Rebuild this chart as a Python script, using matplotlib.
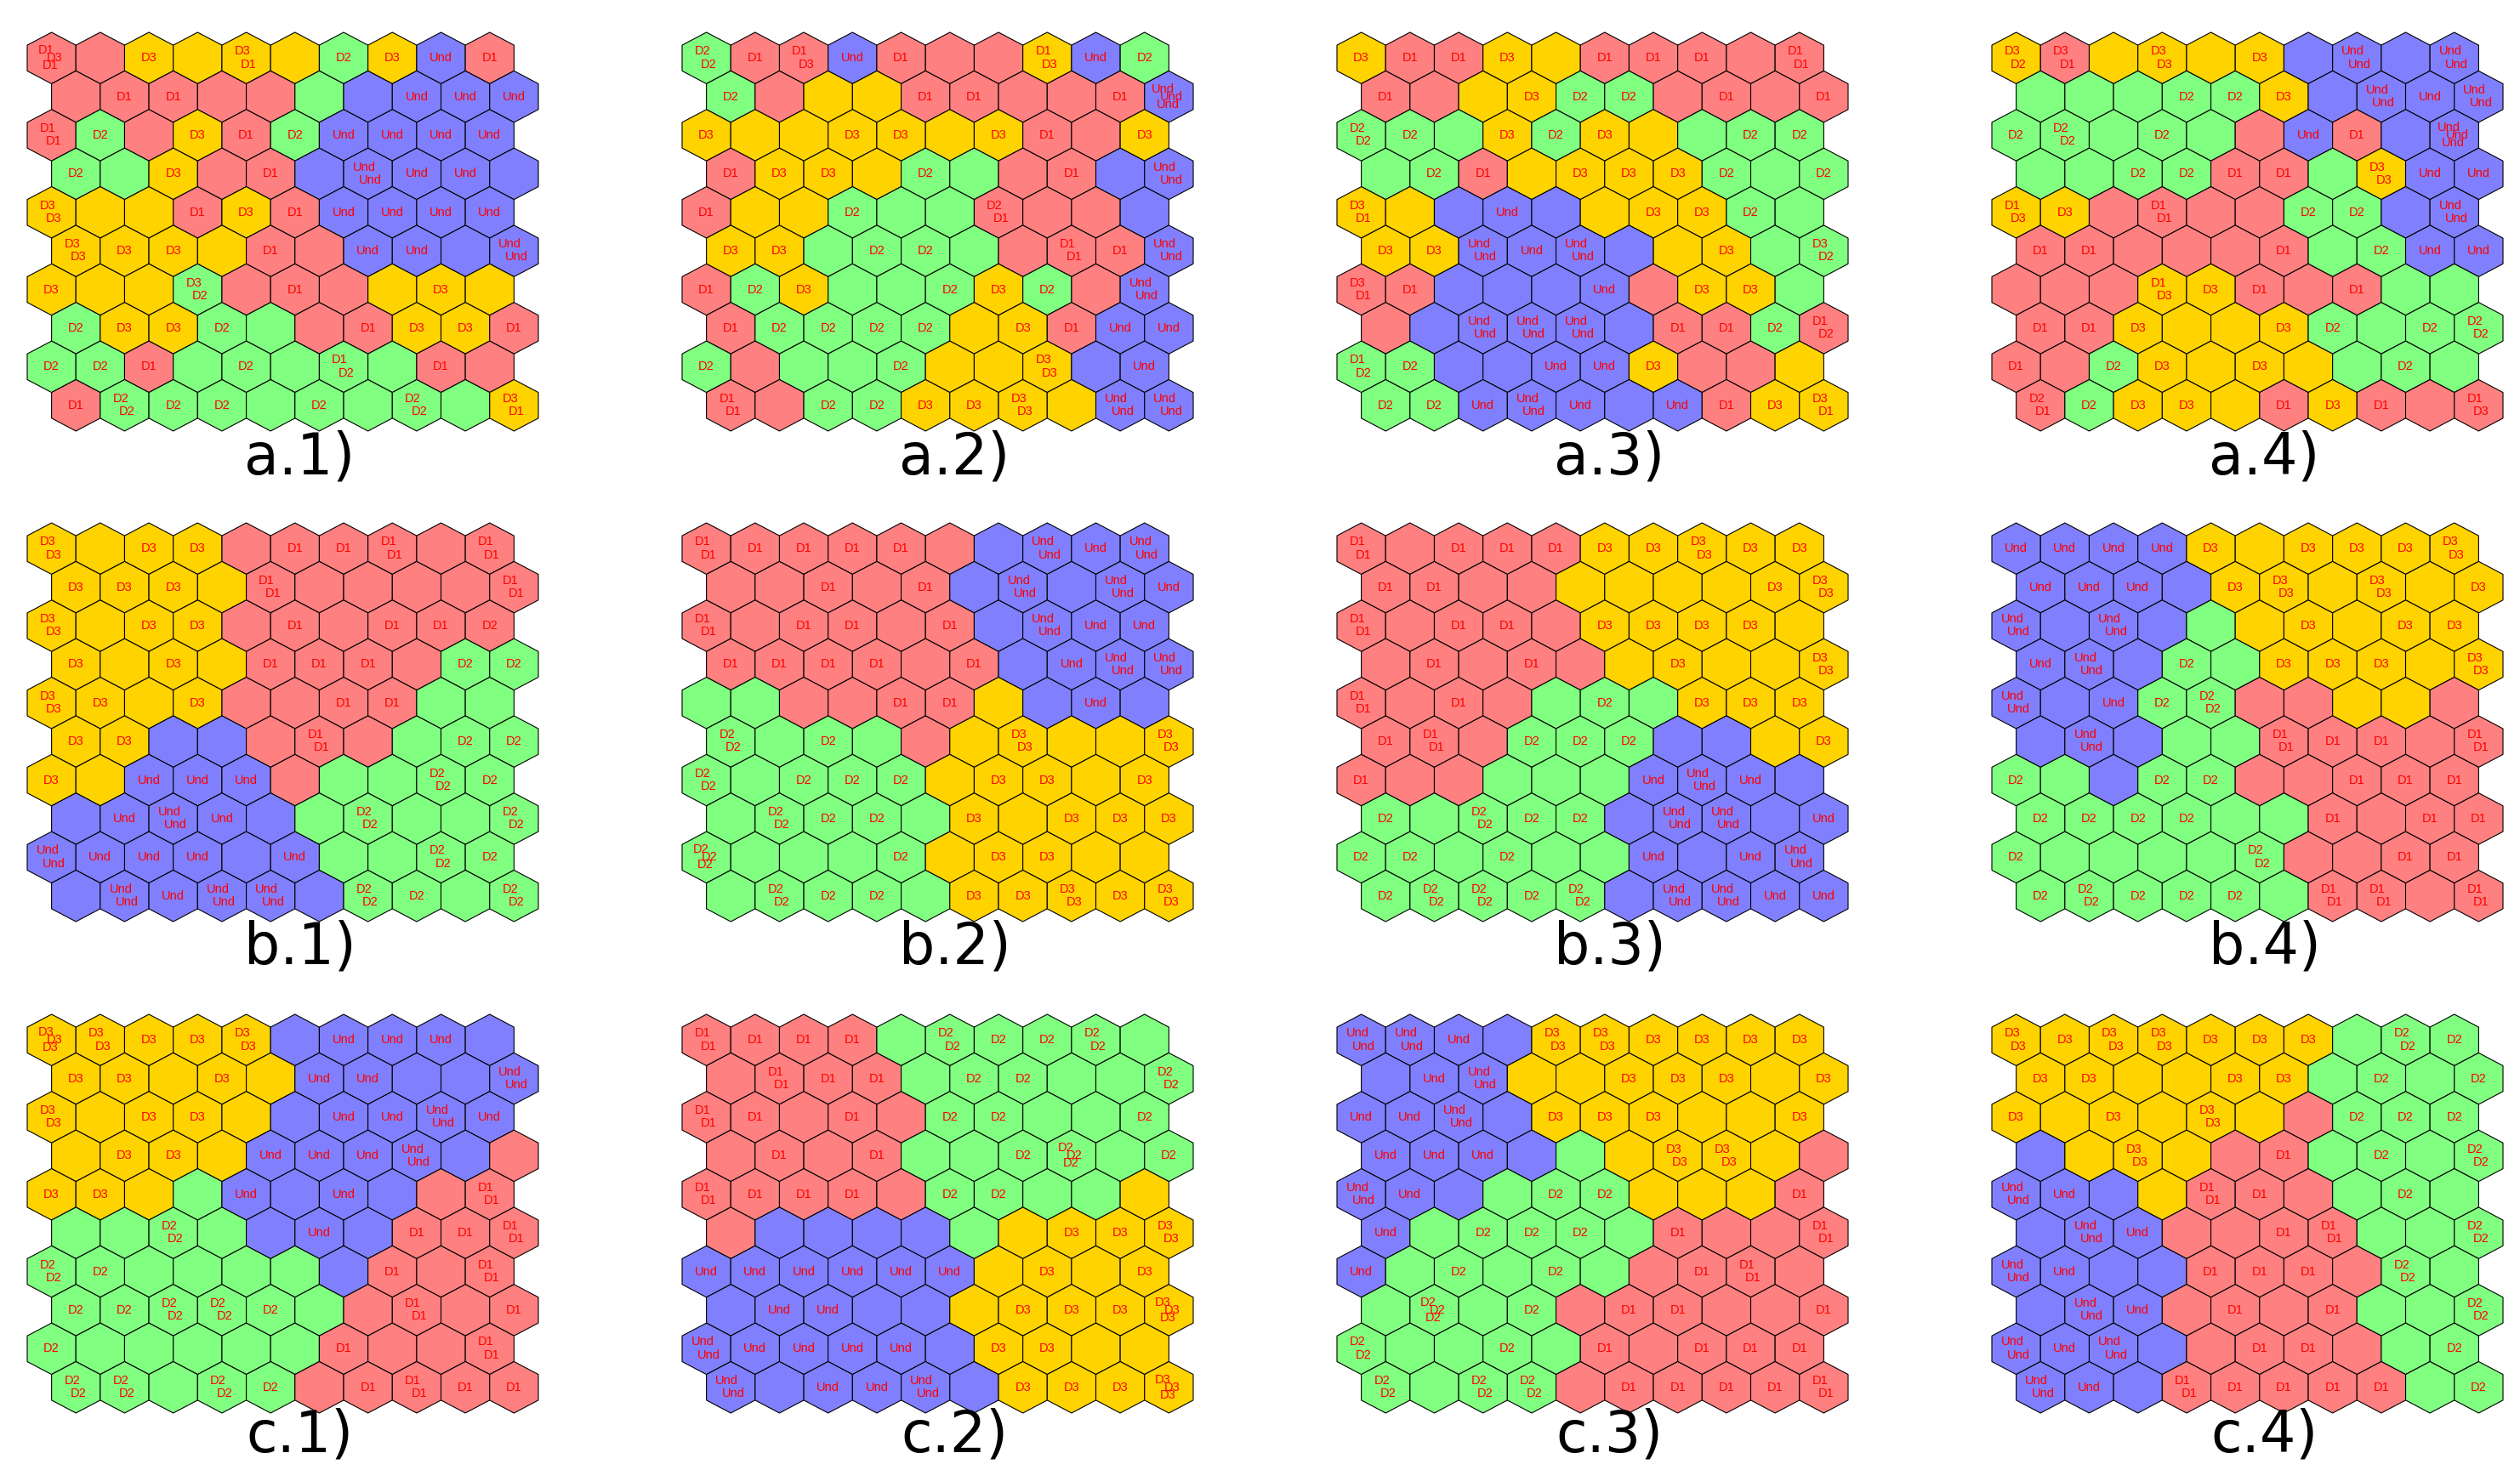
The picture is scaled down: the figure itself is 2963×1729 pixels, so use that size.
import matplotlib
matplotlib.use("Agg")
import matplotlib.pyplot as plt
from matplotlib.collections import PolyCollection

# ---------------- data ----------------
# colour codes: R = D1, G = D2, Y = D3, B = Und  (rows top->bottom, odd rows shifted right)
# label codes per cell: 1 = D1, 2 = D2, 3 = D3, U = Und, . = none
a1_colors = ["RRYYYYGYBR", "RRRRRGBBBB", "RGRYRGBBBB", "GGYRRBBBBB", "YYYRYRBBBB",
             "YYYYRRBBBB", "YYYGRRRYYY", "GYYGGRRYYR", "GGRGGGGGRR", "RGGGGGGGGY"]
a1_labels = ["131 . 3 . 31 . 2 3 U 1", ". 1 1 . . . . U U U", "11 2 . 3 1 2 U U U U",
             "2 . 3 . 1 . UU U U .", "33 . . 1 3 1 U U U U", "33 3 3 . 1 . U U . UU",
             "3 . . 32 . 1 . . 3 .", "2 3 3 2 . . 1 3 3 1", "2 2 1 . 2 . 12 . 1 .",
             "1 22 2 2 . 2 . 22 . 31"]

a2_colors = ["GRRBRRRYBG", "GRYYRRRRRB", "YYYYYYYRRY", "RYYYGGRRBB", "RYYGGGRRRB",
             "YYGGGGRRRB", "RGYGGGYGRB", "RGGGGYYRBB", "GRGGGYYYBB", "RRGGYYYYBB"]
a2_labels = ["22 1 13 U 1 . . 13 U 2", "2 . . . 1 1 . . 1 UUU", "3 . . 3 3 . 3 1 . 3",
             "1 3 3 . 2 . . 1 . UU", "1 . . 2 . . 21 . . .", "3 3 . 2 2 . . 11 1 UU",
             "1 2 3 . . 2 3 2 . UU", "1 2 2 2 2 . 3 1 U U", "2 . . . 2 . . 33 . U",
             "11 . 2 2 3 3 33 . UU UU"]

a3_colors = ["YRRYYRRRRR", "RRYYGGRRRR", "GGGYGYYGGG", "GGRYYYYGGG", "YYBBBYYYGG",
             "YYBBBBYYGG", "RRBBBBRYYG", "RBBBBBRRGR", "GGBBBBYRRY", "GGBBBBBRYY"]
a3_labels = ["3 1 1 3 . 1 1 1 . 11", "1 . . 3 2 2 . 1 . 1", "22 2 . 3 2 3 . . 2 2",
             ". 2 1 . 3 3 3 2 . 2", "31 . . U . . 3 3 2 .", "3 3 UU U UU . . 3 . 32",
             "31 1 . . . U . 3 3 .", ". . UU UU UU . 1 1 2 12", "12 2 . . U U 3 . . .",
             "2 2 U UU U . U 1 3 31"]

a4_colors = ["YRYYYYBBBB", "GGGGGYBBBB", "GGGGGRBRBB", "GGGGRRGYBB", "YYRRRRGGBB",
             "RRRRRRGGBB", "RRRYYRRRGG", "RRYYYYGGGG", "RRGYYYYGGG", "RGYYYRYRRR"]
a4_labels = ["32 31 . 33 . 3 . UU . UU", ". . . 2 2 3 . UU U UU", "2 22 . 2 . . U 1 . UUU",
             ". . 2 2 1 1 . 33 U U", "13 3 . 11 . . 2 2 . UU", "1 1 . . . 1 . 2 U U",
             ". . . 13 3 1 . 1 . .", "1 1 3 . . 3 2 . 2 22", "1 . 2 3 . 3 . . 2 .",
             "21 2 3 3 . 1 3 1 . 13"]

b1_colors = ["YYYYRRRRRR", "YYYYRRRRRR", "YYYYRRRRRR", "YYYYRRRRGG", "YYYYRRRRGG",
             "YYBBRRRGGG", "YYBBBRGGGG", "BBBBBGGGGG", "BBBBBBGGGG", "BBBBBBGGGG"]
b1_labels = ["33 . 3 3 . 1 1 11 . 11", "3 3 3 . 11 . . . . 11", "33 . 3 3 . 1 . 1 1 2",
             "3 . 3 . 1 1 1 . 2 2", "33 3 . 3 . . 1 1 . .", "3 3 . . . 11 . . 2 2",
             "3 . U U U . . . 22 2", ". U UU U . . 22 . . 22", "UU U U U . U . . 22 2",
             ". UU U UU UU . 22 2 . 22"]

b2_colors = ["RRRRRRBBBB", "RRRRRBBBBB", "RRRRRRBBBB", "RRRRRRBBBB", "GGRRRRYBBB",
             "GGGGRYYYYY", "GGGGGYYYYY", "GGGGGYYYYY", "GGGGGYYYYY", "GGGGGYYYYY"]
b2_labels = ["11 1 1 1 1 . . UU U UU", ". . 1 . 1 . UU . UU U", "11 . 1 1 . 1 . UU U U",
             "1 1 1 1 . 1 . U UU UU", ". . . . 1 1 . . U .", "22 . 2 . . . 33 . . 33",
             "22 . 2 2 2 . 3 3 . 3", ". 22 2 2 . 3 . 3 3 3", "222 . . . 2 . 3 3 . .",
             ". 22 2 2 . 3 3 33 3 33"]

b3_colors = ["RRRRRYYYYY", "RRRRYYYYYY", "RRRRRYYYYY", "RRRRRYYYYY", "RRRRGGGYYY",
             "RRRGGGBBYY", "RRRGGGBBBB", "GGGGGBBBBB", "GGGGGGBBBB", "GGGGGBBBBB"]
b3_labels = ["11 . 1 1 1 3 3 33 3 3", "1 1 . . . . . . 3 33", "11 . 1 1 . 3 3 3 3 .",
             ". 1 . 1 . . 3 . . 33", "11 . 1 . . 2 . 3 3 3", "1 11 . 2 2 2 . . . 3",
             "1 . . . . . U UU U .", "2 . 22 2 2 . UU UU . U", "2 2 . 2 . . U . U UU",
             "2 22 22 2 22 . UU UU U U"]

b4_colors = ["BBBBYYYYYY", "BBBBYYYYYY", "BBBBGYYYYY", "BBBGGYYYYY", "BBBGGRRYYR",
             "BBBGGRRRRR", "GGBGGRRRRR", "GGGGGGRRRR", "GGGGGGRRRR", "GGGGGGRRRR"]
b4_labels = ["U U U U 3 . 3 3 3 33", "U U U . 3 33 . 33 . 3", "UU . UU . . . 3 . 3 3",
             "U UU . 2 . 3 3 3 . 33", "UU . U 2 22 . . . . .", ". UU . . . 11 1 1 . 11",
             "2 . . 2 2 . . 1 1 1", "2 2 2 2 . . 1 . 1 1", "2 . . . . 22 . . 1 1",
             "2 22 2 2 2 . 11 11 . 11"]

c1_colors = ["YYYYYBBBBB", "YYYYYBBBBB", "YYYYYBBBBB", "YYYYBBBBBR", "YYYGBBBBRR",
             "GGGGBBBRRR", "GGGGGGBRRR", "GGGGGGRRRR", "GGGGGGRRRR", "GGGGGRRRRR"]
c1_labels = ["333 33 3 3 33 . U U U .", "3 3 . 3 . U U . . UU", "33 . 3 3 . . U U UU U",
             ". 3 3 . U U U UU . .", "3 3 . . U . U . . 11", ". . 22 . . U . 1 1 11",
             "22 2 . . . . . 1 . 11", "2 2 22 22 2 . . 11 . 1", "2 . . . . . 1 . . 11",
             "22 22 . 22 2 . 1 11 1 1"]

c2_colors = ["RRRRGGGGGG", "RRRRGGGGGG", "RRRRRGGGGG", "RRRRGGGGGG", "RRRRRGGGGY",
             "RBBBBGYYYY", "BBBBBBYYYY", "BBBBBYYYYY", "BBBBBBYYYY", "BBBBBBYYYY"]
c2_labels = ["11 1 1 1 . 22 2 2 22 .", ". 11 1 1 . 2 2 . . 22", "11 1 . 1 . 2 2 . . 2",
             ". 1 . 1 . . 2 222 . 2", "11 1 1 1 . 2 2 . . .", ". . . . . . . 3 3 33",
             "U U U U U U . 3 . 3", ". U U . . . 3 3 3 333", "UU U U U U . 3 3 . .",
             "UU . U U UU . 3 3 3 333"]

c3_colors = ["BBBBYYYYYY", "BBBYYYYYYY", "BBBBYYYYYY", "BBBBGYYYYR", "BBBGGGYYYR",
             "BGGGGGRRRR", "BGGGGGRRRR", "GGGGRRRRRR", "GGGGGRRRRR", "GGGGRRRRRR"]
c3_labels = ["UU UU U . 33 33 3 3 3 3", ". U UU . . 3 3 3 . 3", "U U UU . 3 3 3 . . 3",
             "U U U . . . 33 33 . .", "UU U . . 2 2 . . . 1", "U . 2 2 2 . 1 . . 11",
             "U . 2 . 2 . . 1 11 .", ". 222 . 2 . 1 1 . . 1", "22 . . 2 . 1 . 1 1 1",
             "22 . 22 22 . 1 1 1 1 11"]

c4_colors = ["YYYYYYYGGG", "YYYYYYGGGG", "YYYYYYRGGG", "BYYYRRGGGG", "BBBYRRRGGG",
             "BBBRRRRGGG", "BBBBRRRRGG", "BBBRRRRGGG", "BBBBRRRRGG", "BBBRRRRRGG"]
c4_labels = ["33 3 33 33 3 3 3 . 22 2", "3 3 . . 3 3 . 2 . 2", "3 . 3 . 33 . . 2 2 2",
             ". . 33 . . 1 . 2 . 22", "UU U . . 11 1 . . 2 .", ". UU U . . 1 11 . . 22",
             "UU U . . 1 1 1 . 22 .", ". UU U . 1 . 1 . . 22", "UU U UU . . 1 1 . . 2",
             "UU U . 11 1 1 1 1 . 2"]

panel_titles = ["a.1)", "a.2)", "a.3)", "a.4)",
                "b.1)", "b.2)", "b.3)", "b.4)",
                "c.1)", "c.2)", "c.3)", "c.4)"]

# ---------------- styling ----------------
FILL = {"R": "#FF8080", "G": "#80FF80", "Y": "#FFD300", "B": "#8080FF"}
NAME = {"1": "D1", "2": "D2", "3": "D3", "U": "Und"}

W, H = 2963, 1729
fig = plt.figure(figsize=(W / 100, H / 100), dpi=100)
fig.patch.set_facecolor("white")

lefts = [32, 802, 1572, 2342]
tops = [38, 615, 1193]
pw, ph = 601, 469
title_y = [539, 1115, 1688]

panels = [
    (a1_colors, a1_labels), (a2_colors, a2_labels), (a3_colors, a3_labels), (a4_colors, a4_labels),
    (b1_colors, b1_labels), (b2_colors, b2_labels), (b3_colors, b3_labels), (b4_colors, b4_labels),
    (c1_colors, c1_labels), (c2_colors, c2_labels), (c3_colors, c3_labels), (c4_colors, c4_labels),
]

NROW, NCOL = 10, 10
YTOP = 0.75 * (NROW - 1) + 1.0  # total height in hex-height units
XR = NCOL + 0.5

label_off = {
    1: [(0.0, 0.0)],
    2: [(-0.08, 0.13), (0.05, -0.12)],
    3: [(-0.12, 0.15), (0.06, 0.0), (-0.02, -0.15)],
}

for k, (cols, labs) in enumerate(panels):
    i, j = divmod(k, 4)
    x0 = lefts[j]
    y0 = tops[i]
    ax = fig.add_axes([x0 / W, 1 - (y0 + ph) / H, pw / W, ph / H])
    ax.set_xlim(0, XR)
    ax.set_ylim(0, YTOP)
    ax.axis("off")
    polys, fcs = [], []
    for r in range(NROW):
        cy = YTOP - 0.5 - 0.75 * r
        for c in range(NCOL):
            cx = 0.5 + c + 0.5 * (r % 2)
            polys.append([(cx, cy + 0.5), (cx + 0.5, cy + 0.25), (cx + 0.5, cy - 0.25),
                          (cx, cy - 0.5), (cx - 0.5, cy - 0.25), (cx - 0.5, cy + 0.25)])
            fcs.append(FILL[cols[r][c]])
    pc = PolyCollection(polys, facecolors=fcs, edgecolors="black", linewidths=0.8)
    pc.set_clip_on(False)
    ax.add_collection(pc)
    for r in range(NROW):
        cy = YTOP - 0.5 - 0.75 * r
        toks = labs[r].split()
        for c in range(NCOL):
            cx = 0.5 + c + 0.5 * (r % 2)
            t = toks[c]
            if t == ".":
                continue
            offs = label_off[len(t)]
            for ch, (dx, dy) in zip(t, offs):
                ax.text(cx + dx, cy + dy, NAME[ch], color="#FF0000", fontsize=10.5,
                        family="Liberation Sans", ha="center", va="center", clip_on=False)
    fig.text((x0 + pw / 2 + 20) / W, 1 - title_y[i] / H, panel_titles[k],
             fontsize=48, family="DejaVu Sans", ha="center", va="center", color="black")

fig.savefig("out.png", dpi=100, facecolor="white")
